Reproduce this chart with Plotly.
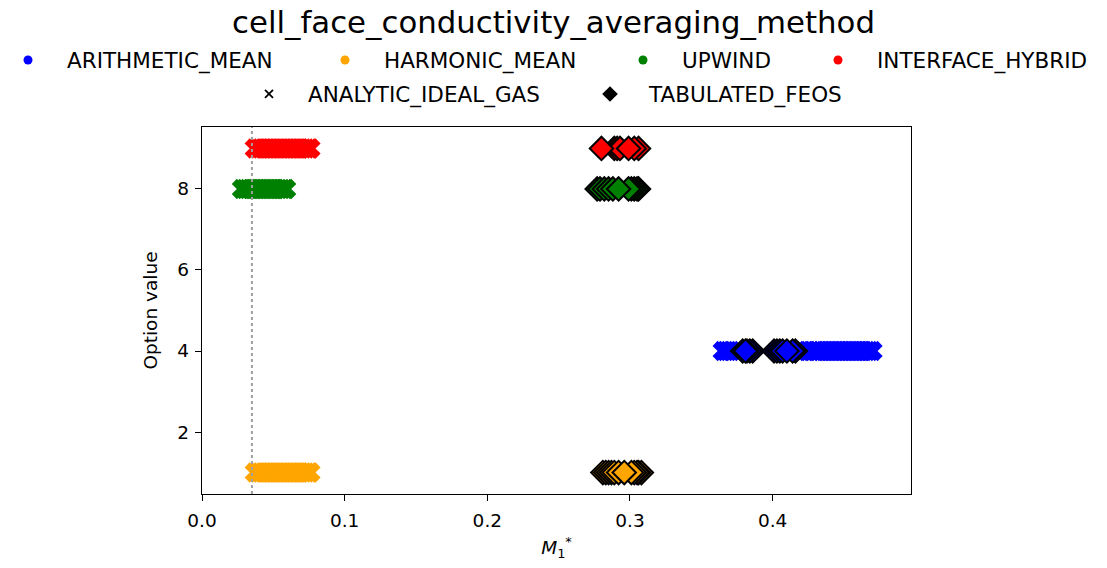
import plotly.graph_objects as go

# Averaging methods, their option values and colours
methods = ["ARITHMETIC_MEAN", "HARMONIC_MEAN", "UPWIND", "INTERFACE_HYBRID"]
option_values = [4, 1, 8, 9]
method_colors = ["blue", "orange", "green", "red"]

# M1* obtained with the analytic ideal-gas EOS, per method
arith_ideal = [0.365, 0.367, 0.369, 0.371, 0.418, 0.421, 0.424, 0.427, 0.430, 0.432,
               0.434, 0.436, 0.438, 0.440, 0.442, 0.444, 0.446, 0.448, 0.450, 0.452,
               0.454, 0.456, 0.458, 0.460, 0.462, 0.464, 0.466, 0.468, 0.470]
harmonic_ideal = [0.037, 0.039, 0.041, 0.043, 0.045, 0.047, 0.049, 0.051, 0.053, 0.055,
                  0.057, 0.059, 0.061, 0.063, 0.065, 0.067, 0.069, 0.071, 0.073, 0.075, 0.076]
upwind_ideal = [0.028, 0.030, 0.032, 0.034, 0.036, 0.038, 0.040, 0.042, 0.044, 0.046,
                0.048, 0.050, 0.052, 0.054, 0.056, 0.058, 0.059]
hybrid_ideal = [0.037, 0.039, 0.041, 0.043, 0.045, 0.047, 0.049, 0.051, 0.053, 0.055,
                0.057, 0.059, 0.061, 0.063, 0.065, 0.067, 0.069, 0.071, 0.073, 0.075, 0.076]

# M1* obtained with the tabulated FEOS, per method
arith_feos = [0.386, 0.384, 0.382, 0.379, 0.381, 0.416, 0.414, 0.401, 0.403, 0.405,
              0.407, 0.410]
harmonic_feos = [0.308, 0.306, 0.305, 0.303, 0.301, 0.281, 0.283, 0.285, 0.287, 0.289,
                 0.292, 0.296]
upwind_feos = [0.306, 0.305, 0.303, 0.301, 0.299, 0.277, 0.279, 0.282, 0.285, 0.288,
               0.292]
hybrid_feos = [0.306, 0.303, 0.289, 0.291, 0.293, 0.280, 0.299]

ideal_by_method = [arith_ideal, harmonic_ideal, upwind_ideal, hybrid_ideal]
feos_by_method = [arith_feos, harmonic_feos, upwind_feos, hybrid_feos]

# Default-option reference value
reference_m1 = 0.035

eos_names = ["ANALYTIC_IDEAL_GAS", "TABULATED_FEOS"]

x_ticks = [0.0, 0.1, 0.2, 0.3, 0.4]
y_ticks = [2, 4, 6, 8]

FONT = "DejaVu Sans"

fig = go.Figure()

for name, val, col, xs in zip(methods, option_values, method_colors, ideal_by_method):
    fig.add_trace(go.Scatter(
        x=xs, y=[val] * len(xs), mode="markers", showlegend=False, name=name,
        marker=dict(symbol="x", size=18, color=col, line=dict(width=0)),
    ))

for name, val, col, xs in zip(methods, option_values, method_colors, feos_by_method):
    fig.add_trace(go.Scatter(
        x=xs, y=[val] * len(xs), mode="markers", showlegend=False, name=name,
        marker=dict(symbol="diamond", size=18, color=col,
                    line=dict(color="black", width=2)),
    ))

# Legend entries: one legend box per entry so each can be placed on its row
legend_entries = [
    (methods[0], dict(symbol="circle", size=9, color=method_colors[0])),
    (methods[1], dict(symbol="circle", size=9, color=method_colors[1])),
    (methods[2], dict(symbol="circle", size=9, color=method_colors[2])),
    (methods[3], dict(symbol="circle", size=9, color=method_colors[3])),
    (eos_names[0], dict(symbol="x-thin-open", size=8, color="black",
                        line=dict(width=1.8, color="black"))),
    (eos_names[1], dict(symbol="diamond", size=12, color="black")),
]
legend_x_px = [27, 344, 642, 837, 268, 609]
legend_y_px = [60, 60, 60, 60, 94, 94]

L, R, T, B = 202, 196, 127, 74
W, H = 1107, 568
pw, ph = W - L - R, H - T - B
ITEM_W = 68
INDENT = -15
SYMBOL_OFFSET = ITEM_W / 2 + 4 + INDENT

layout_legends = {}
for i, ((label, mk), lx, ly) in enumerate(zip(legend_entries, legend_x_px, legend_y_px)):
    key = "legend" if i == 0 else f"legend{i + 1}"
    fig.add_trace(go.Scatter(
        x=[None], y=[None], mode="markers", name=label, marker=mk,
        showlegend=True, legend=key,
    ))
    layout_legends[key] = dict(
        x=(lx - SYMBOL_OFFSET - L) / pw, xanchor="left",
        y=(H - B - ly) / ph, yanchor="middle",
        bgcolor="rgba(0,0,0,0)", borderwidth=0,
        font=dict(family=FONT, size=21.5, color="black"),
        itemwidth=ITEM_W, indentation=INDENT,
    )

fig.add_vline(x=reference_m1, line=dict(color="#a0a0a0", width=2, dash="dot"))

fig.update_layout(
    width=W, height=H,
    margin=dict(l=L, r=R, t=T, b=B, autoexpand=False),
    plot_bgcolor="white", paper_bgcolor="white",
    font=dict(family=FONT, color="black"),
    title=dict(text="cell_face_conductivity_averaging_method",
               x=0.5, xanchor="center", y=1 - 22 / H, yanchor="middle",
               font=dict(family=FONT, size=30.8, color="black")),
    xaxis=dict(
        range=[0, 0.497], tickvals=x_ticks, ticktext=[f"{v:.1f}" for v in x_ticks],
        showgrid=False, zeroline=False, showline=True, mirror=True,
        linecolor="black", linewidth=1.3, ticks="outside", ticklen=6,
        tickcolor="black", tickwidth=1.2, ticklabelstandoff=4,
        tickfont=dict(family=FONT, size=18.5, color="black"),
        title=dict(text="<i>M</i><sub>1</sub><sup>*</sup>", standoff=10,
                   font=dict(family=FONT, size=18.5, color="black")),
    ),
    yaxis=dict(
        range=[0.47, 9.53], tickvals=y_ticks,
        showgrid=False, zeroline=False, showline=True, mirror=True,
        linecolor="black", linewidth=1.3, ticks="outside", ticklen=6,
        tickcolor="black", tickwidth=1.2, ticklabelstandoff=2,
        tickfont=dict(family=FONT, size=18.5, color="black"),
        title=dict(text="Option value", standoff=14,
                   font=dict(family=FONT, size=18.5, color="black")),
    ),
    **layout_legends,
)

fig.write_html("out.html")
